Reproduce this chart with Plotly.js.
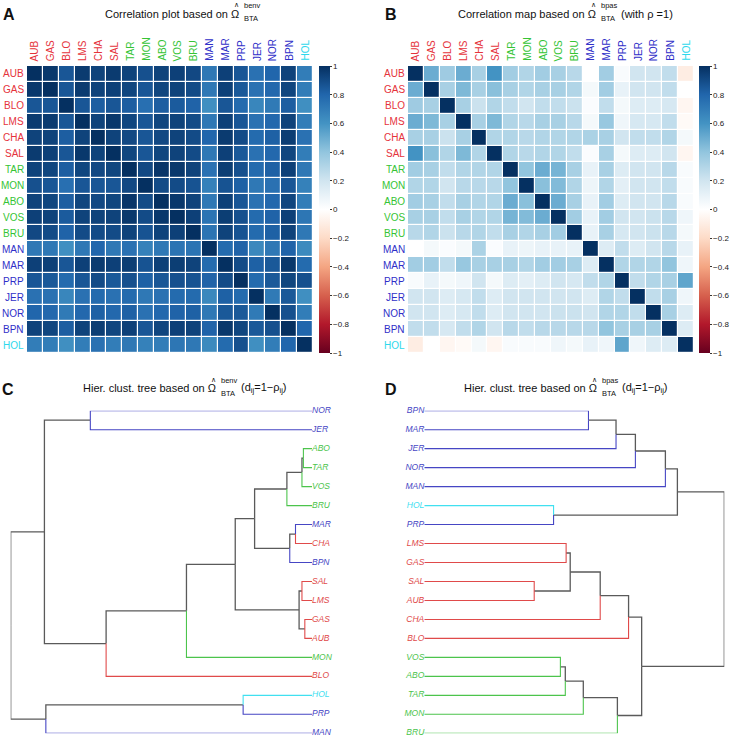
<!DOCTYPE html>
<html><head><meta charset="utf-8">
<script src="https://cdn.plot.ly/plotly-3.0.1.min.js"></script>
<style>html,body{margin:0;padding:0;background:#fff}#chart{width:732px;height:737px}</style>
</head><body><div id="chart"></div>
<script>
// ---------- DATA ----------
const labels = ['AUB','GAS','BLO','LMS','CHA','SAL','TAR','MON','ABO','VOS','BRU','MAN','MAR','PRP','JER','NOR','BPN','HOL'];
const labelGroup = ['r','r','r','r','r','r','g','g','g','g','g','b','b','b','b','b','b','c'];
const groupColor = {r:'#E5333B', g:'#35C435', b:'#2F2FC8', c:'#2ED8EC'};
const branchColor = {r:'#E04A4A', g:'#4CC44C', b:'#4646C4', c:'#40E0F0'};

const corrBenv = [
 [1.00,0.97,0.86,0.96,0.93,0.96,0.93,0.88,0.93,0.94,0.91,0.72,0.94,0.86,0.75,0.80,0.93,0.70],
 [0.97,1.00,0.86,0.96,0.93,0.94,0.92,0.86,0.92,0.93,0.90,0.72,0.94,0.85,0.75,0.79,0.92,0.70],
 [0.86,0.86,1.00,0.86,0.83,0.86,0.83,0.76,0.83,0.84,0.81,0.62,0.86,0.78,0.66,0.71,0.83,0.62],
 [0.96,0.96,0.86,1.00,0.93,0.97,0.92,0.86,0.92,0.93,0.90,0.72,0.94,0.86,0.75,0.79,0.93,0.70],
 [0.93,0.93,0.83,0.93,1.00,0.93,0.91,0.86,0.91,0.93,0.90,0.80,0.96,0.90,0.78,0.82,0.95,0.75],
 [0.96,0.94,0.86,0.97,0.93,1.00,0.92,0.86,0.92,0.93,0.90,0.72,0.94,0.85,0.75,0.79,0.92,0.70],
 [0.93,0.92,0.83,0.92,0.91,0.92,1.00,0.91,0.98,0.97,0.93,0.75,0.95,0.88,0.78,0.82,0.94,0.72],
 [0.88,0.86,0.76,0.86,0.86,0.86,0.91,1.00,0.90,0.90,0.87,0.68,0.87,0.82,0.72,0.75,0.86,0.68],
 [0.93,0.92,0.83,0.92,0.91,0.92,0.98,0.90,1.00,0.97,0.93,0.72,0.94,0.86,0.75,0.79,0.92,0.70],
 [0.94,0.93,0.84,0.93,0.93,0.93,0.97,0.90,0.97,1.00,0.94,0.74,0.95,0.88,0.78,0.81,0.94,0.73],
 [0.91,0.90,0.81,0.90,0.90,0.90,0.93,0.87,0.93,0.94,1.00,0.74,0.93,0.87,0.78,0.82,0.93,0.72],
 [0.72,0.72,0.62,0.72,0.80,0.72,0.75,0.68,0.72,0.74,0.74,1.00,0.78,0.81,0.65,0.72,0.81,0.64],
 [0.94,0.94,0.86,0.94,0.96,0.94,0.95,0.87,0.94,0.95,0.93,0.78,1.00,0.90,0.82,0.85,0.97,0.78],
 [0.86,0.85,0.78,0.86,0.90,0.85,0.88,0.82,0.86,0.88,0.87,0.81,0.90,1.00,0.78,0.85,0.92,0.88],
 [0.75,0.75,0.66,0.75,0.78,0.75,0.78,0.72,0.75,0.78,0.78,0.65,0.82,0.78,1.00,0.71,0.85,0.62],
 [0.80,0.79,0.71,0.79,0.82,0.79,0.82,0.75,0.79,0.81,0.82,0.72,0.85,0.85,0.71,1.00,0.88,0.70],
 [0.93,0.92,0.83,0.93,0.95,0.92,0.94,0.86,0.92,0.94,0.93,0.81,0.97,0.92,0.85,0.88,1.00,0.80],
 [0.70,0.70,0.62,0.70,0.75,0.70,0.72,0.68,0.70,0.73,0.72,0.64,0.78,0.88,0.62,0.70,0.80,1.00]
];

const corrBpas = [
 [1.00,0.50,0.36,0.50,0.33,0.60,0.35,0.30,0.35,0.33,0.28,0.00,0.35,0.03,0.20,0.20,0.25,-0.10],
 [0.50,1.00,0.33,0.45,0.33,0.42,0.33,0.30,0.33,0.33,0.30,0.05,0.35,0.10,0.20,0.20,0.25,0.00],
 [0.36,0.33,1.00,0.33,0.22,0.30,0.25,0.20,0.25,0.25,0.22,0.02,0.25,0.05,0.15,0.15,0.18,-0.05],
 [0.50,0.45,0.33,1.00,0.33,0.45,0.30,0.28,0.33,0.33,0.28,0.05,0.38,0.07,0.18,0.18,0.25,-0.03],
 [0.33,0.33,0.22,0.33,1.00,0.30,0.30,0.28,0.30,0.30,0.30,0.32,0.33,0.20,0.25,0.25,0.30,0.05],
 [0.60,0.42,0.30,0.45,0.30,1.00,0.30,0.28,0.30,0.30,0.25,0.02,0.33,0.05,0.15,0.15,0.20,-0.05],
 [0.35,0.33,0.25,0.30,0.30,0.30,1.00,0.40,0.50,0.47,0.33,0.10,0.33,0.15,0.20,0.20,0.28,0.03],
 [0.30,0.30,0.20,0.28,0.28,0.28,0.40,1.00,0.42,0.44,0.30,0.08,0.30,0.12,0.20,0.20,0.25,0.03],
 [0.35,0.33,0.25,0.33,0.30,0.30,0.50,0.42,1.00,0.50,0.33,0.10,0.35,0.15,0.20,0.20,0.28,0.03],
 [0.33,0.33,0.25,0.33,0.30,0.30,0.47,0.44,0.50,1.00,0.35,0.10,0.35,0.20,0.20,0.22,0.28,0.07],
 [0.28,0.30,0.22,0.28,0.30,0.25,0.33,0.30,0.33,0.35,1.00,0.10,0.33,0.18,0.20,0.22,0.28,0.05],
 [0.00,0.05,0.02,0.05,0.32,0.02,0.10,0.08,0.10,0.10,0.10,1.00,0.15,0.25,0.15,0.20,0.28,0.10],
 [0.35,0.35,0.25,0.38,0.33,0.33,0.33,0.30,0.35,0.35,0.33,0.15,1.00,0.30,0.30,0.30,0.40,0.07],
 [0.03,0.10,0.05,0.07,0.20,0.05,0.15,0.12,0.15,0.20,0.18,0.25,0.30,1.00,0.25,0.30,0.33,0.53],
 [0.20,0.20,0.15,0.18,0.25,0.15,0.20,0.20,0.20,0.20,0.20,0.15,0.30,0.25,1.00,0.25,0.33,0.07],
 [0.20,0.20,0.15,0.18,0.25,0.15,0.20,0.20,0.20,0.22,0.22,0.20,0.30,0.30,0.25,1.00,0.33,0.15],
 [0.25,0.25,0.18,0.25,0.30,0.20,0.28,0.25,0.28,0.28,0.28,0.28,0.40,0.33,0.33,0.33,1.00,0.15],
 [-0.10,0.00,-0.05,-0.03,0.05,-0.05,0.03,0.03,0.03,0.07,0.05,0.10,0.07,0.53,0.07,0.15,0.15,1.00]
];

// dendrogram C (benv): leaf order top->bottom, merges (childA, childB, height)
const leafOrderC = ['NOR','JER','ABO','TAR','VOS','BRU','MAR','CHA','BPN','SAL','LMS','GAS','AUB','MON','BLO','HOL','PRP','MAN'];
const mergeAC = ['ABO','n1','n2','MAR','n4','n3','SAL','GAS','n7','n6','n10','n11','NOR','n13','HOL','n15','n14'];
const mergeBC = ['TAR','VOS','BRU','CHA','BPN','n5','LMS','AUB','n8','n9','MON','BLO','JER','n12','PRP','MAN','n16'];
const heightC = [0.012,0.014,0.035,0.023,0.031,0.080,0.014,0.010,0.018,0.107,0.175,0.287,0.309,0.373,0.096,0.371,0.420];

// dendrogram D (bpas)
const leafOrderD = ['BPN','MAR','JER','NOR','MAN','HOL','PRP','LMS','GAS','SAL','AUB','CHA','BLO','VOS','ABO','TAR','MON','BRU'];
const mergeAD = ['BPN','n1','n2','n3','HOL','n4','LMS','SAL','n7','n9','n10','VOS','n12','n13','n14','n11','n6'];
const mergeBD = ['MAR','JER','NOR','MAN','PRP','n5','GAS','AUB','n8','CHA','BLO','ABO','TAR','MON','BRU','n15','n16'];
const heightD = [0.602,0.703,0.774,0.884,0.474,0.928,0.520,0.403,0.535,0.645,0.749,0.499,0.517,0.583,0.708,0.797,1.10];

// ---------- helpers ----------
const W = 732, H = 737;
const px = v => v / W;
const py = v => 1 - v / H;
const FONT = 'Liberation Sans, Arial, Helvetica, sans-serif';
const colorOf = {}; labels.forEach((l,i)=> colorOf[l] = labelGroup[i]);
const idx = labels.map((_,i)=>i);

const rdbu = ['#67001F','#B2182B','#D6604D','#F4A582','#FDDBC7','#FFFFFF','#D1E5F0','#92C5DE','#4393C3','#2166AC','#053061'];
const colorscale = rdbu.map((c,i)=>[i/10, c]);

function heat(z, xa, ya, cbx) {
  return {
    type:'heatmap', z:z, x:idx, y:idx, xaxis:xa, yaxis:ya,
    zmin:-1, zmax:1, colorscale:colorscale, xgap:1.2, ygap:1.2, hoverinfo:'skip',
    colorbar:{x:cbx, xanchor:'left', xref:'paper', y:py(209.5), yanchor:'middle',
      thicknessmode:'pixels', thickness:11, lenmode:'pixels', len:287, xpad:0, ypad:0,
      outlinewidth:0, tickmode:'linear', tick0:-1, dtick:0.2, ticks:'outside', ticklen:2,
      tickcolor:'#333', tickfont:{family:FONT, size:8, color:'#222'}}
  };
}

function dendroTraces(leafOrder, mA, mB, hs, xa, ya, side) {
  const pos = {};
  leafOrder.forEach((l,i)=> pos[l] = {h:0, y:i+1, leaf:true, name:l});
  const seg = {gray:{x:[],y:[]}, r:{x:[],y:[]}, g:{x:[],y:[]}, b:{x:[],y:[]}, c:{x:[],y:[]}};
  hs.forEach((h,k)=>{
    const a = pos[mA[k]], b = pos[mB[k]];
    const node = {h:h, y:(a.y+b.y)/2, leaf:false};
    [a,b].forEach(ch=>{
      const key = ch.leaf ? colorOf[ch.name] : 'gray';
      seg[key].x.push(node.h, node.h, ch.h, null);
      seg[key].y.push(node.y, ch.y, ch.y, null);
    });
    pos['n'+(k+1)] = node;
  });
  const traces = [];
  Object.keys(seg).forEach(k=>{
    traces.push({type:'scatter', mode:'lines', x:seg[k].x, y:seg[k].y, xaxis:xa, yaxis:ya,
      line:{color: k==='gray' ? '#5a5a5a' : branchColor[k], width: k==='gray'?1.3:1.1},
      hoverinfo:'skip', connectgaps:false});
  });
  traces.push({type:'scatter', mode:'text', x:leafOrder.map(()=>0), y:leafOrder.map((_,i)=>i+1),
    text:leafOrder.map(l=>`<i>${l}</i>`), textposition: side, xaxis:xa, yaxis:ya, cliponaxis:false,
    textfont:{family:FONT, size:8.5, color:leafOrder.map(l=>branchColor[colorOf[l]])}, hoverinfo:'skip'});
  return traces;
}

const data = [
  heat(corrBenv, 'x', 'y', px(319)),
  heat(corrBpas, 'x2', 'y2', px(699)),
  ...dendroTraces(leafOrderC, mergeAC, mergeBC, heightC, 'x3', 'y3', 'middle right'),
  ...dendroTraces(leafOrderD, mergeAD, mergeBD, heightD, 'x4', 'y4', 'middle left')
];

const heatX = (d, ya)=>({domain:d, range:[-0.5,17.5], visible:false, fixedrange:true, anchor:ya});
const heatY = (xa)=>({domain:[py(353), py(66)], range:[17.5,-0.5], visible:false, anchor:xa});
const dendY = (xa)=>({domain:[py(733.3), py(410.7)], range:[18,1], visible:false, anchor:xa});

function ann(text, x, y, size, anchor, extra) {
  return Object.assign({text:text, x:px(x), y:py(y), xref:'paper', yref:'paper', showarrow:false,
    xanchor:anchor, yanchor:'middle', font:{family:FONT, size:size, color:'#111'}}, extra||{});
}
const annotations = [
  ann('<b>A</b>', 1, 14, 16, 'left'),
  ann('<b>B</b>', 383, 14, 16, 'left'),
  ann('<b>C</b>', 0, 389, 16, 'left'),
  ann('<b>D</b>', 383, 389, 16, 'left')
];
// titles: main text ending with Omega, hat, superscript and subscript stacked
function title(main, endX, y, sup, tail) {
  annotations.push(ann(main + ' \u03A9', endX, y, 11, 'right'));
  annotations.push(ann('\u2227', endX - 4.5, y - 9, 6.5, 'center'));
  annotations.push(ann(sup, endX + 1, y - 8, 7.5, 'left'));
  annotations.push(ann('BTA', endX + 1, y + 5, 7.5, 'left'));
  if (tail) annotations.push(ann(tail, endX + 21, y, 11, 'left'));
}
title('Correlation plot based on', 241, 14, 'benv', '');
title('Correlation map based on', 598, 14, 'bpas', '(with \u03C1 =1)');
title('Hier. clust. tree based on', 218, 388, 'benv', '(d<sub>ij</sub>=1\u2212\u03C1<sub>ij</sub>)');
title('Hier. clust. tree based on', 599, 388, 'bpas', '(d<sub>ij</sub>=1\u2212\u03C1<sub>ij</sub>)');

// heatmap axis labels as annotations (coloured individually)
[['x','y',25],['x2','y2',406]].forEach(([xa,ya,lx])=>{
  labels.forEach((l,i)=>{
    const c = groupColor[labelGroup[i]];
    annotations.push({text:l, xref:xa, x:i, yref:'paper', y:py(63), xanchor:'center', yanchor:'bottom',
      textangle:-90, showarrow:false, font:{family:FONT, size:10, color:c}});
    annotations.push({text:l, xref:'paper', x:px(lx), yref:ya, y:i, xanchor:'right', yanchor:'middle',
      showarrow:false, borderpad:0, font:{family:FONT, size:10, color:c}});
  });
});

const layout = {
  width:W, height:H, margin:{l:0,r:0,t:0,b:0}, paper_bgcolor:'#fff', plot_bgcolor:'#fff',
  showlegend:false, font:{family:FONT},
  xaxis: heatX([px(27), px(313)], 'y'),
  yaxis: heatY('x'),
  xaxis2: heatX([px(408), px(694)], 'y2'),
  yaxis2: heatY('x2'),
  xaxis3: {domain:[px(10.7), px(312)], range:[0.42, 0], visible:false, anchor:'y3'},
  yaxis3: dendY('x3'),
  xaxis4: {domain:[px(424.3), px(724.3)], range:[0, 1.10], visible:false, anchor:'y4'},
  yaxis4: dendY('x4'),
  annotations: annotations
};

Plotly.newPlot('chart', data, layout, {displayModeBar:false, staticPlot:true});
</script></body></html>
